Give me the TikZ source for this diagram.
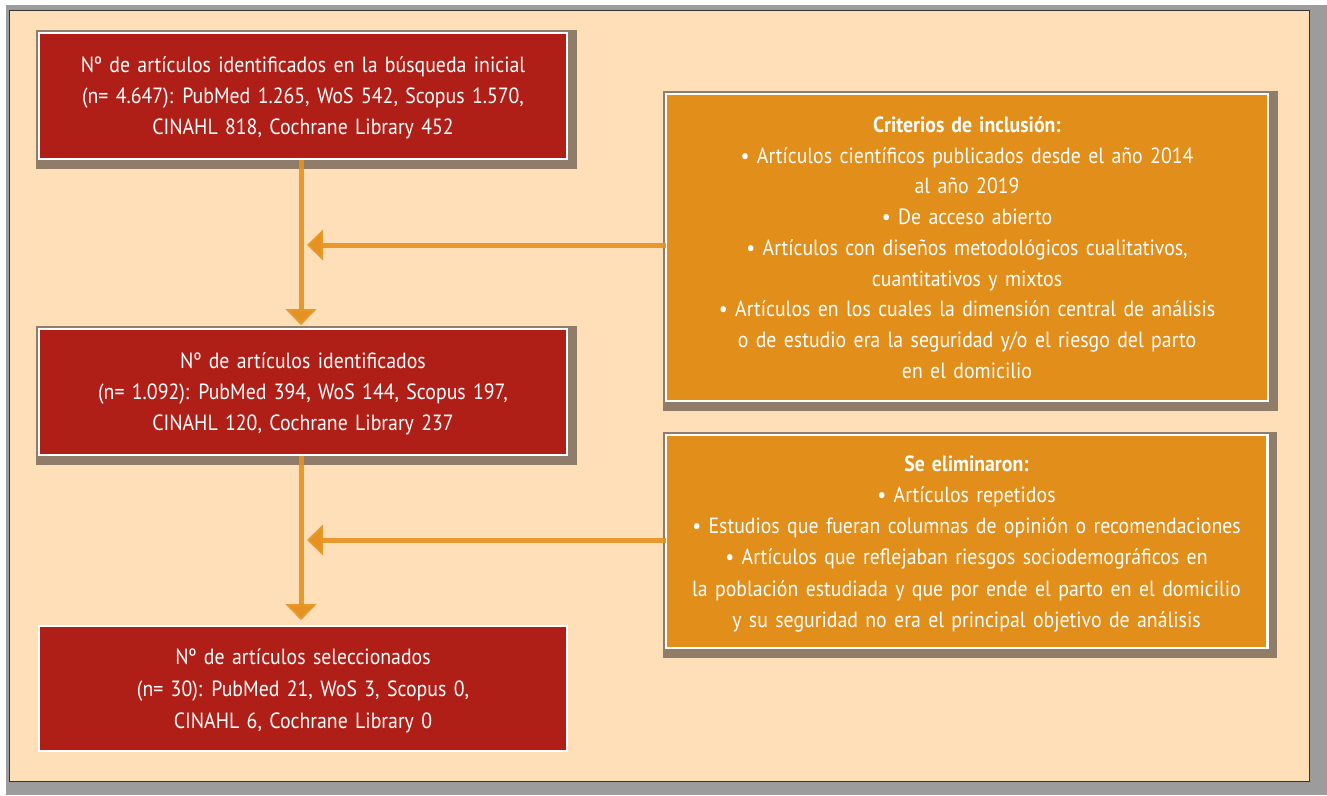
\documentclass[tikz,border=0pt]{standalone}
\usepackage{fontspec}
\setmainfont{PT Sans}[FakeStretch=0.9, WordSpace=1.4]
\usetikzlibrary{arrows.meta,backgrounds}

\definecolor{framegray}{HTML}{9C9C9C}
\definecolor{peach}{HTML}{FFDFB8}
\definecolor{boxred}{HTML}{B01F17}
\definecolor{boxorange}{HTML}{E28E1A}
\definecolor{shadowc}{HTML}{8F7D6A}
\definecolor{arrowc}{HTML}{E69220}

\tikzset{
  basebox/.style={draw=white, line width=2.4pt, text=white, align=center,
    inner sep=0pt, outer sep=0pt, text depth=0pt, font=\fontsize{22}{31}\selectfont},
  redbox/.style={basebox, fill=boxred, minimum width=527.6pt, minimum height=125.6pt},
  orangebox/.style={basebox, fill=boxorange, minimum width=601.6pt},
  flow/.style={draw=arrowc, draw opacity=0.9, line width=5pt,
    -{Triangle[width=30pt,length=16pt]}},
}

% shadow behind a box: a bit larger on the top/left, clearly offset right/down
\newcommand{\boxshadow}[1]{%
  \fill[shadowc] ([shift={(-3pt,3pt)}]#1.north west) rectangle ([shift={(10pt,-10pt)}]#1.south east);}

\begin{document}
\begin{tikzpicture}[x=1pt,y=-1pt]
\useasboundingbox (0,0) rectangle (1327,795);

% flow boxes
\node[redbox] (b1) at (303,96)
  {Nº de artículos identificados en la búsqueda inicial\\
   (n= 4.647): PubMed 1.265, WoS 542, Scopus 1.570,\\
   CINAHL 818, Cochrane Library 452};
\node[redbox] (b2) at (303,392)
  {Nº de artículos identificados\\
   (n= 1.092): PubMed 394, WoS 144, Scopus 197,\\
   CINAHL 120, Cochrane Library 237};
\node[redbox, minimum height=124.6pt, font=\fontsize{22}{32}\selectfont] (b3) at (303,688.5)
  {Nº de artículos seleccionados\\
   (n= 30): PubMed 21, WoS 3, Scopus 0,\\
   CINAHL 6, Cochrane Library 0};

% side boxes
\node[orangebox, minimum height=306.6pt, font=\fontsize{22}{30.75}\selectfont] (crit) at (967,247.5)
  {\textbf{Criterios de inclusión:}\\
   • Artículos científicos publicados desde el año 2014\\
   al año 2019\\
   • De acceso abierto\\
   • Artículos con diseños metodológicos cualitativos,\\
   cuantitativos y mixtos\\
   • Artículos en los cuales la dimensión central de análisis\\
   o de estudio era la seguridad y/o el riesgo del parto\\
   en el domicilio};
\node[orangebox, minimum height=212.6pt, font=\fontsize{22}{31.2}\selectfont] (elim) at (966.5,541.5)
  {\textbf{Se eliminaron:}\\
   • Artículos repetidos\\
   • Estudios que fueran columnas de opinión o recomendaciones\\
   • Artículos que reflejaban riesgos sociodemográficos en\\
   la población estudiada y que por ende el parto en el domicilio\\
   y su seguridad no era el principal objetivo de análisis};

% page frame and box shadows, behind everything
\begin{scope}[on background layer]
  \fill[framegray] (6,5) rectangle (1327,795);
  \filldraw[fill=peach, draw=black!80, line width=1pt] (9.5,10.5) rectangle (1309.5,781);
  \boxshadow{b1}
  \boxshadow{b2}
  \boxshadow{crit}
  \boxshadow{elim}
\end{scope}

% connectors
\coordinate (spine) at (301,0);
\coordinate (j1) at (307,245);
\coordinate (j2) at (307,540);
\draw[flow, shorten <=1.2pt, shorten >=4pt] (spine |- b1.south) -- (spine |- b2.north);
\draw[flow, shorten <=1.2pt, shorten >=6pt] (spine |- b2.south) -- (spine |- b3.north);
\draw[flow] (crit.west |- j1) -- (j1);
\draw[flow] (elim.west |- j2) -- (j2);
\end{tikzpicture}
\end{document}
